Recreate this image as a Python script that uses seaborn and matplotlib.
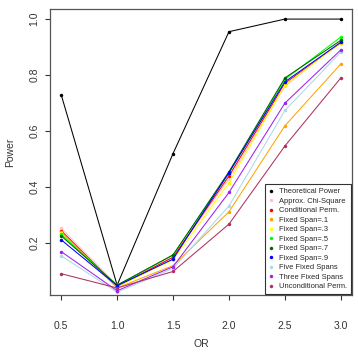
import numpy as np
import pandas as pd
import seaborn as sns
import matplotlib.pyplot as plt

odds_ratio = [0.5, 1.0, 1.5, 2.0, 2.5, 3.0]

theoretical = [0.73, 0.05, 0.52, 0.955, 1.0, 1.0]
chi_square = [0.254, 0.050, 0.150, 0.430, 0.760, 0.920]
cond_perm = [0.245, 0.045, 0.150, 0.440, 0.770, 0.915]
span_01 = [0.239, 0.040, 0.120, 0.312, 0.619, 0.840]
span_03 = [0.235, 0.045, 0.140, 0.416, 0.765, 0.915]
span_05 = [0.232, 0.050, 0.158, 0.450, 0.785, 0.936]
span_07 = [0.226, 0.050, 0.158, 0.455, 0.790, 0.924]
span_09 = [0.212, 0.048, 0.143, 0.452, 0.776, 0.917]
five_spans = [0.155, 0.025, 0.110, 0.333, 0.674, 0.882]
three_spans = [0.170, 0.030, 0.116, 0.381, 0.700, 0.890]
uncond_perm = [0.091, 0.040, 0.099, 0.268, 0.547, 0.790]

labels = ["Theoretical Power", "Approx. Chi-Square", "Conditional Perm.",
          "Fixed Span=.1", "Fixed Span=.3", "Fixed Span=.5", "Fixed Span=.7",
          "Fixed Span=.9", "Five Fixed Spans", "Three Fixed Spans",
          "Unconditional Perm."]
series = [theoretical, chi_square, cond_perm, span_01, span_03, span_05,
          span_07, span_09, five_spans, three_spans, uncond_perm]
colors = ["black", "#FFC0CB", "#FF0000", "#FFA500", "#FFFF00", "#00FF00",
          "#006400", "#0000FF", "#ADD8E6", "#A020F0", "#B03060"]

sns.set_style("white")
plt.rcParams['font.family'] = ['Liberation Sans', 'DejaVu Sans']

fig = plt.figure(figsize=(3.58, 3.52), dpi=100)
ax = fig.add_axes([50 / 358, 57 / 352, 302 / 358, 286 / 352])

for lab, vals, col in zip(labels, series, colors):
    df = pd.DataFrame({"OR": odds_ratio, "Power": vals})
    sns.lineplot(data=df, x="OR", y="Power", color=col, marker="o",
                 markersize=2.5, markeredgewidth=0, linewidth=0.75,
                 label=lab, ax=ax)

ax.set_xlim(0.4, 3.1)
ax.set_ylim(0.015, 1.036)
ax.set_xticks([0.5, 1.0, 1.5, 2.0, 2.5, 3.0])
ax.set_xticklabels(["0.5", "1.0", "1.5", "2.0", "2.5", "3.0"])
ax.set_yticks([0.2, 0.4, 0.6, 0.8, 1.0])
ax.set_yticklabels(["0.2", "0.4", "0.6", "0.8", "1.0"], rotation=90, va="center")
ax.tick_params(axis="both", direction="out", length=3.6, width=0.8,
               color="#333333", labelsize=7.5, labelcolor="#333333",
               left=True, bottom=True)
ax.tick_params(axis="x", pad=15)
ax.tick_params(axis="y", pad=4)
for s in ax.spines.values():
    s.set_color("#555555")
    s.set_linewidth(0.9)

ax.set_xlabel("OR", fontsize=7.5, color="#333333", labelpad=6)
ax.set_ylabel("Power", fontsize=7.5, color="#333333", labelpad=10)

leg = ax.legend(loc="lower right", fontsize=5.4, frameon=True, fancybox=False,
                edgecolor="black", handlelength=0.6, handletextpad=0.8,
                labelspacing=0.3, borderpad=0.5, borderaxespad=0.15)
leg.get_frame().set_linewidth(0.8)
for h in leg.legend_handles:
    h.set_linestyle("none")
    h.set_markersize(2.5)

fig.savefig("out.png", dpi=100)
